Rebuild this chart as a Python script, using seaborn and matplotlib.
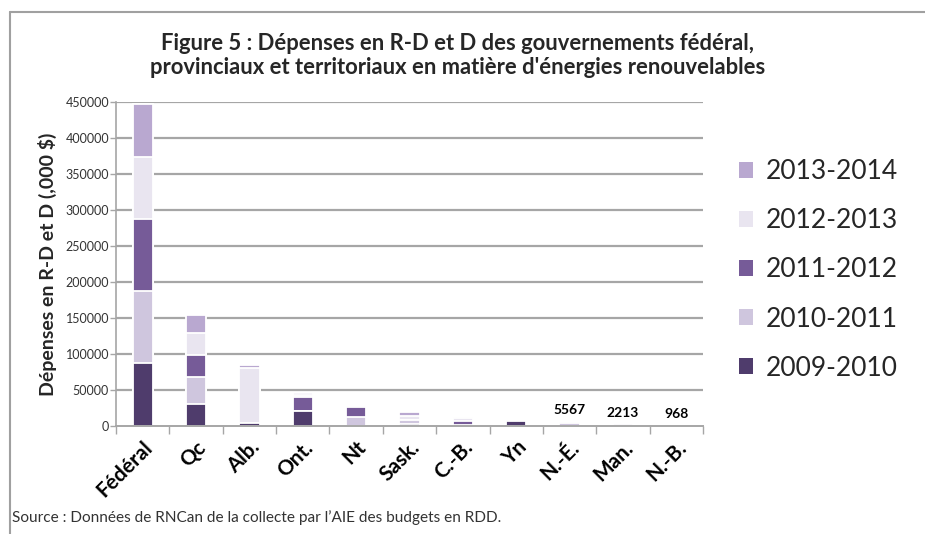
import matplotlib
matplotlib.use("Agg")
import matplotlib.pyplot as plt
import matplotlib.patches as mpatches
import numpy as np
import seaborn as sns

categories = ["Fédéral", "Qc", "Alb.", "Ont.", "Nt", "Sask.", "C.-B.", "Yn", "N.-É.", "Man.", "N.-B."]
series_names = ["2009-2010", "2010-2011", "2011-2012", "2012-2013", "2013-2014"]
s2009_2010 = [87000, 30000, 4600, 21000, 0, 3500, 0, 7500, 0, 0, 0]
s2010_2011 = [101000, 38500, 0, 0, 12500, 5000, 2000, 0, 4000, 2213, 968]
s2011_2012 = [100000, 30300, 0, 19500, 14000, 0, 5500, 0, 0, 0, 0]
s2012_2013 = [86000, 29800, 76600, 3000, 2000, 6000, 3500, 0, 1567, 0, 0]
s2013_2014 = [73000, 26100, 4100, 2000, 0, 4500, 2000, 500, 0, 0, 0]
labelled = {"N.-É.": "5567", "Man.": "2213", "N.-B.": "968"}
yticks = [0, 50000, 100000, 150000, 200000, 250000, 300000, 350000, 400000, 450000]

colors = ["#4F3C6C", "#CFC6DE", "#765B98", "#E9E5F0", "#B9A8D0"]

sns.set_theme(style="white")
plt.rcParams["font.family"] = ["Lato", "DejaVu Sans"]

fig = plt.figure(figsize=(9.25, 5.34), dpi=100)
ax = fig.add_axes([0.1254, 0.2022, 0.6346, 0.6068])

series = [s2009_2010, s2010_2011, s2011_2012, s2012_2013, s2013_2014]
cum = np.cumsum(np.array(series, dtype=float), axis=0)

# gridlines
for yv in yticks[1:]:
    ax.axhline(yv, color="#A6A6A6", lw=1.6, zorder=0)

for i in range(len(series) - 1, -1, -1):
    sns.barplot(x=categories, y=cum[i], color=colors[i], width=0.38,
                edgecolor="white", linewidth=1.3, ax=ax, zorder=2,
                saturation=1)

totals = cum[-1]
for j, c in enumerate(categories):
    if c in labelled:
        ax.annotate(labelled[c], (j, totals[j]), xytext=(0, 4),
                    textcoords="offset points", ha="center", va="bottom",
                    fontsize=10, fontweight="bold", color="black")

ax.set_ylim(0, 450000)
ax.set_xlim(-0.5, len(categories) - 0.5)
ax.set_yticks(yticks)
ax.set_yticklabels([str(v) for v in yticks], fontsize=9, color="#333333")
ax.set_xticks(range(len(categories)))
ax.set_xticklabels(categories, rotation=45, ha="right", rotation_mode="anchor",
                   fontsize=15, fontweight="bold", color="black")
ax.tick_params(axis="x", which="major", length=0, pad=8)
ax.set_xticks(np.arange(-0.5, len(categories), 1.0), minor=True)
ax.tick_params(axis="x", which="minor", length=6, width=1, color="#A6A6A6",
               direction="out", bottom=True)
ax.tick_params(axis="y", which="major", length=4, width=1, color="#A6A6A6",
               direction="out", left=True, pad=1)

for s in ["top", "right"]:
    ax.spines[s].set_visible(False)
ax.spines["left"].set_color("#A6A6A6")
ax.spines["bottom"].set_color("#A6A6A6")
ax.spines["left"].set_linewidth(1.2)
ax.spines["bottom"].set_linewidth(1.4)
ax.set_xlabel("")
ax.set_ylabel("Dépenses en R-D et D (,000 $)", fontsize=14,
              fontweight="bold", labelpad=6)

fig.text(0.4946, 0.896,
         "Figure 5 : Dépenses en R-D et D des gouvernements fédéral,\n"
         "provinciaux et territoriaux en matière d'énergies renouvelables",
         ha="center", va="center", fontsize=15.8, fontweight="bold",
         linespacing=1.22)

handles = [mpatches.Patch(facecolor=colors[i], edgecolor="none", label=series_names[i])
           for i in range(len(series) - 1, -1, -1)]
leg = fig.legend(handles=handles, loc="center left", bbox_to_anchor=(0.787, 0.4944),
                 frameon=False, fontsize=19, handlelength=0.55, handleheight=0.55,
                 handletextpad=0.5, labelspacing=0.91, borderaxespad=0)

fig.text(0.013, 0.030, "Source : Données de RNCan de la collecte par l\u2019AIE des budgets en RDD.",
         fontsize=11.1, ha="left", va="center", color="#333333")

# outer frame
fig.add_artist(plt.Line2D([0.0108, 0.0108], [0.0, 0.9775], color="#A0A0A0", lw=1.5,
                          transform=fig.transFigure))
fig.add_artist(plt.Line2D([0.0108, 1.0], [0.9775, 0.9775], color="#A0A0A0", lw=1.5,
                          transform=fig.transFigure))

fig.savefig("out.png", dpi=100)
